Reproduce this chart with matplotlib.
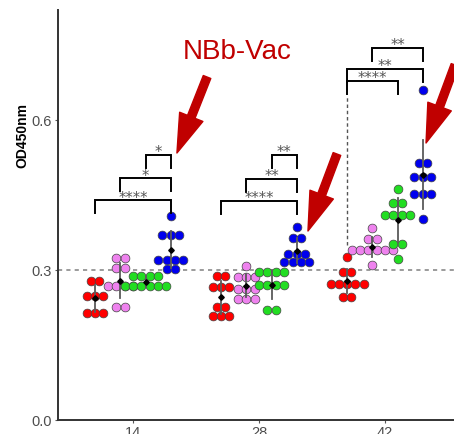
import numpy as np
import matplotlib
matplotlib.use('Agg')
import matplotlib.pyplot as plt

# data (OD450nm per animal)
days = ['14', '28', '42']
group_colors = ['#FF0000', '#EE82EE', '#22DD22', '#0000EE']
group_offsets = [-0.3, -0.1, 0.1, 0.3]

red_vals = [
    [0.279, 0.279, 0.248, 0.248, 0.248, 0.215, 0.215, 0.215],
    [0.289, 0.289, 0.266, 0.266, 0.266, 0.227, 0.227, 0.209, 0.209, 0.209],
    [0.327, 0.297, 0.297, 0.273, 0.273, 0.273, 0.273, 0.273, 0.247, 0.247],
]
violet_vals = [
    [0.325, 0.325, 0.305, 0.305, 0.269, 0.269, 0.269, 0.269, 0.227, 0.227],
    [0.309, 0.287, 0.287, 0.287, 0.263, 0.263, 0.263, 0.242, 0.242, 0.242],
    [0.385, 0.363, 0.363, 0.341, 0.341, 0.341, 0.341, 0.341, 0.341, 0.310],
]
green_vals = [
    [0.289, 0.289, 0.289, 0.289, 0.269, 0.269, 0.269, 0.269, 0.269, 0.269],
    [0.297, 0.297, 0.297, 0.297, 0.270, 0.270, 0.270, 0.270, 0.220, 0.220],
    [0.463, 0.435, 0.435, 0.410, 0.410, 0.410, 0.410, 0.353, 0.353, 0.323],
]
blue_vals = [
    [0.408, 0.371, 0.371, 0.371, 0.321, 0.321, 0.321, 0.321, 0.302, 0.302],
    [0.387, 0.365, 0.365, 0.333, 0.333, 0.333, 0.317, 0.317, 0.317, 0.317],
    [0.660, 0.515, 0.515, 0.487, 0.487, 0.487, 0.452, 0.452, 0.452, 0.403],
]
all_groups = [red_vals, violet_vals, green_vals, blue_vals]

# significance brackets: (day index, group a, group b, bar height, label)
sig_day = [0, 0, 0, 1, 1, 1, 2, 2, 2]
sig_a = [0, 1, 2, 0, 1, 2, 1, 0, 0]
sig_b = [3, 3, 3, 3, 3, 3, 3, 3, 2]
sig_y = [0.44, 0.484, 0.53, 0.439, 0.482, 0.53, 0.745, 0.703, 0.679]
sig_lab = ['****', '*', '*', '****', '**', '**', '**', '**', '****']

fig = plt.figure(figsize=(4.54, 4.34), dpi=100)
ax = fig.add_axes([58/454, 14/434, (454-58)/454, 410/434])

step = 0.066  # horizontal spacing of stacked dots

def stack(center, vals):
    xs, ys = [], []
    uniq = []
    for v in vals:
        if v not in uniq:
            uniq.append(v)
    for v in uniq:
        n = vals.count(v)
        offs = (np.arange(n) - (n - 1) / 2) * step
        xs.extend(center + offs)
        ys.extend([v] * n)
    return xs, ys

ax.axhline(0.3, color='#8a8a8a', ls=(0, (2.5, 2.5)), lw=1.2, zorder=1)

for gi, vals in enumerate(all_groups):
    for di in range(3):
        cx = di + 1 + group_offsets[gi]
        xs, ys = stack(cx, vals[di])
        ax.scatter(xs, ys, s=40, color=group_colors[gi], edgecolor='#444444',
                   linewidth=0.5, zorder=3 + gi * 0.1)
        m = np.mean(vals[di])
        sd = np.std(vals[di], ddof=1)
        ax.plot([cx, cx], [m - sd, m + sd], color='#5a5a5a', lw=1.3, zorder=4)
        ax.plot(cx, m, marker='D', ms=2.8, color='black', zorder=5)

tip = 0.026
for i in range(len(sig_lab)):
    x1 = sig_day[i] + 1 + group_offsets[sig_a[i]]
    x2 = sig_day[i] + 1 + group_offsets[sig_b[i]]
    y = sig_y[i]
    ax.plot([x1, x1, x2, x2], [y - tip, y, y, y - tip], color='black', lw=1.4,
            zorder=6, solid_joinstyle='miter', clip_on=False)
    ax.text((x1 + x2) / 2, y - 0.011, sig_lab[i], ha='center', va='bottom',
            fontsize=10.5, color='#555555', zorder=7)

# dashed guide at day 42
ax.plot([3 + group_offsets[0]] * 2, [0.35, 0.65], color='#555555', lw=1.0,
        ls=(0, (2.5, 2)), zorder=2)

# red arrows
arrow_tail = [(1.588, 0.686), (2.619, 0.532), (3.556, 0.71)]
arrow_head = [(1.349, 0.534), (2.389, 0.378), (3.326, 0.554)]
for t, h in zip(arrow_tail, arrow_head):
    ax.annotate('', xy=h, xytext=t, annotation_clip=False,
                arrowprops=dict(arrowstyle='simple,head_length=1.4,head_width=0.9,tail_width=0.29',
                                color='#C00000', shrinkA=0, shrinkB=0, mutation_scale=20))

ax.text(1.826, 0.736, 'NBb-Vac', ha='center', va='center', fontsize=20,
        color='#C00000', family=['Liberation Sans Narrow', 'Liberation Sans'])

ax.set_xlim(0.405, 3.548)
ax.set_ylim(0, 0.82)
ax.set_xticks([1, 2, 3])
ax.set_xticklabels(days)
ax.set_yticks([0.0, 0.3, 0.6])
ax.set_yticklabels(['0.0', '0.3', '0.6'])
for sp in ['top', 'right']:
    ax.spines[sp].set_visible(False)
for sp in ['left', 'bottom']:
    ax.spines[sp].set_linewidth(1.4)
    ax.spines[sp].set_color('#333333')
ax.tick_params(length=2.5, width=0.8, color='#555555', labelcolor='#4D4D4D',
               labelsize=10.5, pad=2)
for lab in ax.get_xticklabels() + ax.get_yticklabels():
    lab.set_family('Liberation Sans')

fig.text(22/454, 1 - 135/434, 'OD450nm', rotation=90, ha='center', va='center',
         fontsize=10, fontweight='bold', family='Liberation Sans')

fig.savefig('out.png', dpi=100)
